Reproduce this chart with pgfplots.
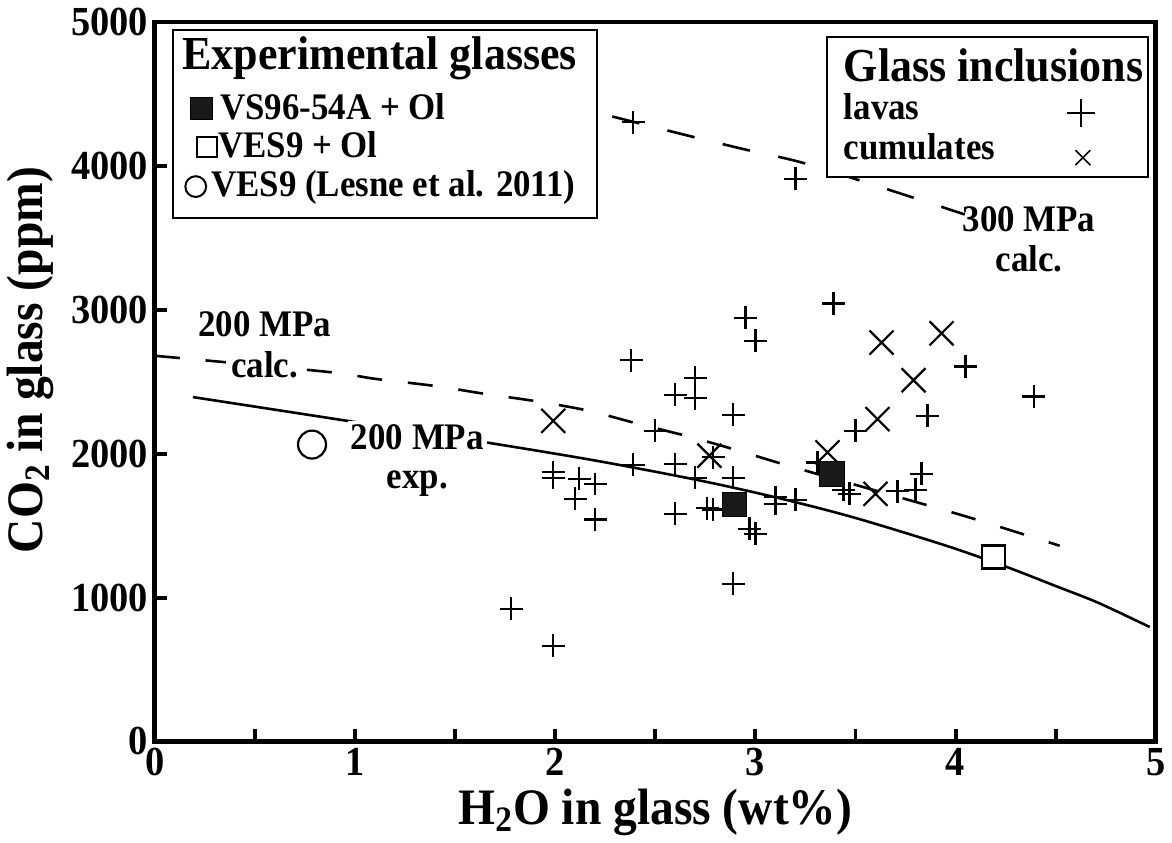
\documentclass[border=0pt]{standalone}
\usepackage{fontspec}
\setmainfont{Liberation Serif}[FakeStretch=0.93]
\usepackage{pgfplots}
\pgfplotsset{compat=1.18}
\newcommand{\fa}{\fontsize{18.8}{20}\selectfont\bfseries}
\newcommand{\ft}{\fontsize{23.7}{25}\selectfont\bfseries}
\begin{document}
\begin{tikzpicture}
\begin{axis}[
  scale only axis, width=501.5pt, height=360.5pt,
  xmin=0, xmax=5, ymin=0, ymax=5000,
  axis line style={line width=2.4pt},
  xtick={0,1,2,3,4,5}, minor xtick={0.5,1.5,2.5,3.5,4.5},
  ytick={0,1000,2000,3000,4000,5000},
  tick pos=left, tick align=inside,
  major tick length=6pt, minor tick length=6pt,
  every tick/.style={black, line width=2pt},
  tick label style={font=\fontsize{20.7}{22}\selectfont\bfseries},
  /pgf/number format/assume math mode=true,
  /pgf/number format/1000 sep={},
  xlabel={H\textsubscript{2}O in glass (wt\%)},
  ylabel={CO\textsubscript{2} in glass (ppm)},
  label style={font=\fontsize{25.6}{28}\selectfont\bfseries},
  xlabel style={at={(axis description cs:0.5,-0.115)}, anchor=base},
  ylabel style={at={(axis description cs:-0.1127,0.53)}, anchor=base},
  clip=false,
]
% invisible frame fixing the picture size
\path (axis cs:-0.7727,-679.6) rectangle (axis cs:5.0698,5152.7);

% 200 MPa experimental (solid)
\addplot[smooth, line width=1.3pt, black] coordinates {
 (0.19,2393) (0.97,2226) (1.65,2079) (2.2,1952) (2.72,1814) (3.12,1690) (3.5,1553) (3.96,1357) (4.26,1210) (4.5,1080) (4.71,965) (4.97,795)};
% 200 MPa calculated (dashed)
\addplot[smooth, line width=1.3pt, black, dash pattern=on 12.5pt off 13pt] coordinates {
 (0,2680) (0.85,2570) (1.1,2520) (1.4,2470) (1.65,2415) (1.9,2365) (2.16,2300) (2.42,2205) (2.67,2118) (2.93,2015) (3.18,1910) (3.95,1605) (4.2,1500) (4.52,1360)};
% 300 MPa calculated (dashed)
\addplot[smooth, line width=1.3pt, black, dash pattern=on 14pt off 14.5pt] coordinates {
 (2.285,4343) (2.692,4200) (2.966,4108) (3.240,4020) (3.664,3835) (4.046,3662)};

% lavas
\addplot[only marks, mark=+, mark size=5.75pt, mark options={line width=1.1pt}, black] coordinates {
 (2.39,4304) (3.20,3911) (3.39,3044) (2.95,2944) (3.00,2783) (4.05,2605) (2.38,2649)
 (2.70,2528) (2.70,2385) (2.60,2408) (4.39,2397) (2.89,2270) (3.86,2263) (2.50,2159)
 (3.50,2159) (3.31,1939) (2.79,1974) (2.39,1922) (2.60,1928) (2.70,1831) (2.89,1831)
 (1.99,1870) (1.99,1831) (2.12,1824) (2.20,1789) (2.10,1685) (2.20,1542) (2.60,1581)
 (2.76,1622) (2.79,1612) (3.10,1697) (3.10,1650) (3.20,1680) (2.97,1477) (3.00,1442)
 (3.44,1750) (3.47,1720) (3.71,1738) (3.80,1748) (3.83,1859) (2.89,1096) (1.78,922) (1.99,664)};
% cumulates
\addplot[only marks, mark=x, mark size=8.5pt, mark options={line width=1.1pt}, black] coordinates {
 (1.99,2228) (2.77,1986) (3.36,2009) (3.61,2240) (3.63,2772) (3.93,2836) (3.79,2510) (3.60,1720)};
% experimental glasses
\addplot[only marks, mark=square*, mark size=6.2pt, black, mark options={fill=black!90}] coordinates {
 (2.895,1648) (3.383,1861)};
\addplot[only marks, mark=square*, mark size=5.8pt, black, mark options={line width=1.2pt, fill=white}] coordinates {
 (4.19,1281)};
\addplot[only marks, mark=*, mark size=7pt, black, mark options={line width=1.1pt, fill=white}] coordinates {
 (0.785,2063)};

% curve labels
\node[font=\fa, anchor=base, fill=white, inner sep=1.5pt] at (axis cs:0.548,2816) {200 MPa};
\node[font=\fa, anchor=base, fill=white, inner sep=2.5pt] at (axis cs:0.548,2531) {calc.};
\node[font=\fa, anchor=base, fill=white, inner sep=1.5pt] at (axis cs:1.311,2032) {200 MPa};
\node[font=\fa, anchor=base, fill=white, inner sep=1.5pt] at (axis cs:1.311,1755) {exp.};
\node[font=\fa, anchor=base, inner sep=1pt] at (axis cs:4.367,3544) {300 MPa};
\node[font=\fa, anchor=base, inner sep=1pt] at (axis cs:4.367,3266) {calc.};

% left legend box
\draw[line width=1pt, fill=white] (axis cs:0.0897,3636) rectangle (axis cs:2.208,4945);
\node[font=\ft, anchor=base west, inner sep=0pt] at (axis cs:0.135,4667) {Experimental glasses};
\addplot[only marks, mark=square*, mark size=5.5pt, black, mark options={fill=black!90}] coordinates {(0.234,4397)};
\node[font=\fa, anchor=base west, inner sep=0pt] at (axis cs:0.324,4320) {VS96-54A + Ol};
\addplot[only marks, mark=square*, mark size=5pt, black, mark options={line width=1pt, fill=white}] coordinates {(0.259,4133)};
\node[font=\fa, anchor=base west, inner sep=0pt] at (axis cs:0.314,4057) {VES9 + Ol};
\addplot[only marks, mark=*, mark size=5.2pt, black, mark options={line width=1pt, fill=white}] coordinates {(0.204,3856)};
\node[font=\fa, anchor=base west, inner sep=0pt] at (axis cs:0.279,3786) {VES9 (Lesne et al. 2011)};

% right legend box
\draw[line width=1pt, fill=white] (axis cs:3.360,3925) rectangle (axis cs:4.960,4896);
\node[font=\ft, anchor=base west, inner sep=0pt] at (axis cs:3.440,4584) {Glass inclusions};
\node[font=\fa, anchor=base west, inner sep=0pt] at (axis cs:3.440,4320) {lavas};
\node[font=\fa, anchor=base west, inner sep=0pt] at (axis cs:3.440,4043) {cumulates};
\addplot[only marks, mark=+, mark size=7pt, black, mark options={line width=0.8pt}] coordinates {(4.626,4369)};
\addplot[only marks, mark=x, mark size=5.3pt, black, mark options={line width=0.8pt}] coordinates {(4.636,4057)};
\end{axis}
\end{tikzpicture}
\end{document}
